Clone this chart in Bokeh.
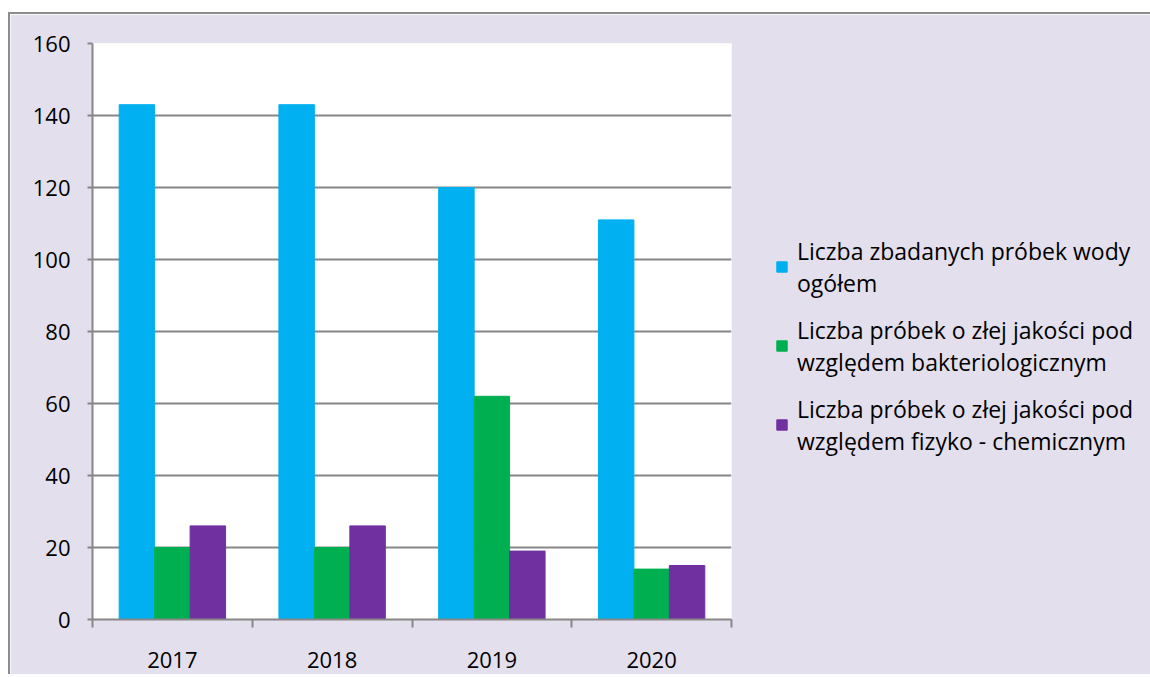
from bokeh.plotting import figure
from bokeh.models import ColumnDataSource, FixedTicker, Legend, LegendItem, Range1d
from bokeh.transform import dodge
from bokeh.embed import file_html
from bokeh.resources import INLINE

years = ["2017", "2018", "2019", "2020"]
ogolem = [143, 143, 120, 111]
bakterio = [20, 20, 62, 14]
fizyko = [26, 26, 19, 15]
series_names = [
    "Liczba zbadanych próbek wody\nogółem",
    "Liczba próbek o złej jakości pod\nwzględem bakteriologicznym",
    "Liczba próbek o złej jakości pod\nwzględem fizyko - chemicznym",
]
colors = ["#00B0F0", "#00B050", "#7030A0"]
y_ticks = [0, 20, 40, 60, 80, 100, 120, 140, 160]

idx = [i + 0.5 for i in range(len(years))]
src = ColumnDataSource(dict(x=idx, a=ogolem, b=bakterio, c=fizyko))

FONT = "Open Sans"
BG = "#E4DFEC"
GRID = "#878787"

p = figure(frame_width=639, frame_height=576,
           min_border_left=82, min_border_right=419, min_border_top=29, min_border_bottom=55,
           x_range=Range1d(0, len(years)), y_range=Range1d(0, 160),
           output_backend="svg", toolbar_location=None,
           background_fill_color="white", border_fill_color=BG,
           outline_line_color=None)
p.styles = {"margin-top": "12px", "margin-left": "8px",
            "margin-bottom": "-14px", "margin-right": "-14px",
            "border-top": "2px solid #8c8c8c", "border-left": "2px solid #8c8c8c"}

w = 0.222
renderers = []
for key, off, col in zip(["a", "b", "c"], [-w, 0, w], colors):
    r = p.vbar(x=dodge("x", off), top=key, width=w, source=src,
               fill_color=col, line_color=col)
    renderers.append(r)

# axes
p.xaxis.ticker = FixedTicker(ticks=idx, minor_ticks=list(range(len(years) + 1)))
p.xaxis.major_label_overrides = {x: y for x, y in zip(idx, years)}
p.xaxis.major_tick_line_color = None
p.xaxis.minor_tick_out = 8
p.xaxis.minor_tick_in = 0
p.xaxis.minor_tick_line_color = GRID
p.xaxis.minor_tick_line_width = 2
p.xaxis.major_label_standoff = 24

p.yaxis.ticker = FixedTicker(ticks=y_ticks)
p.yaxis.major_tick_out = 5
p.yaxis.major_tick_in = 0
p.yaxis.minor_tick_line_color = None
p.yaxis.major_tick_line_color = GRID
p.yaxis.major_tick_line_width = 2
p.yaxis.major_label_standoff = 17

for ax in (p.xaxis, p.yaxis):
    ax.axis_line_color = GRID
    ax.axis_line_width = 2
    ax.major_label_text_font = FONT
    ax.major_label_text_font_size = "22px"
    ax.major_label_text_color = "black"

p.xgrid.grid_line_color = None
p.ygrid.grid_line_color = GRID
p.ygrid.grid_line_width = 2

legend = Legend(items=[LegendItem(label=n, renderers=[r]) for n, r in zip(series_names, renderers)],
                location=(44, 155), orientation="vertical",
                background_fill_alpha=0, border_line_color=None,
                padding=0, margin=0, spacing=0, label_height=79,
                glyph_width=13, glyph_height=13, label_standoff=9,
                label_text_font=FONT, label_text_font_size="23px",
                label_text_line_height=1.45, label_text_color="black")
p.add_layout(legend, "right")

open("out.html", "w").write(file_html(p, INLINE))
